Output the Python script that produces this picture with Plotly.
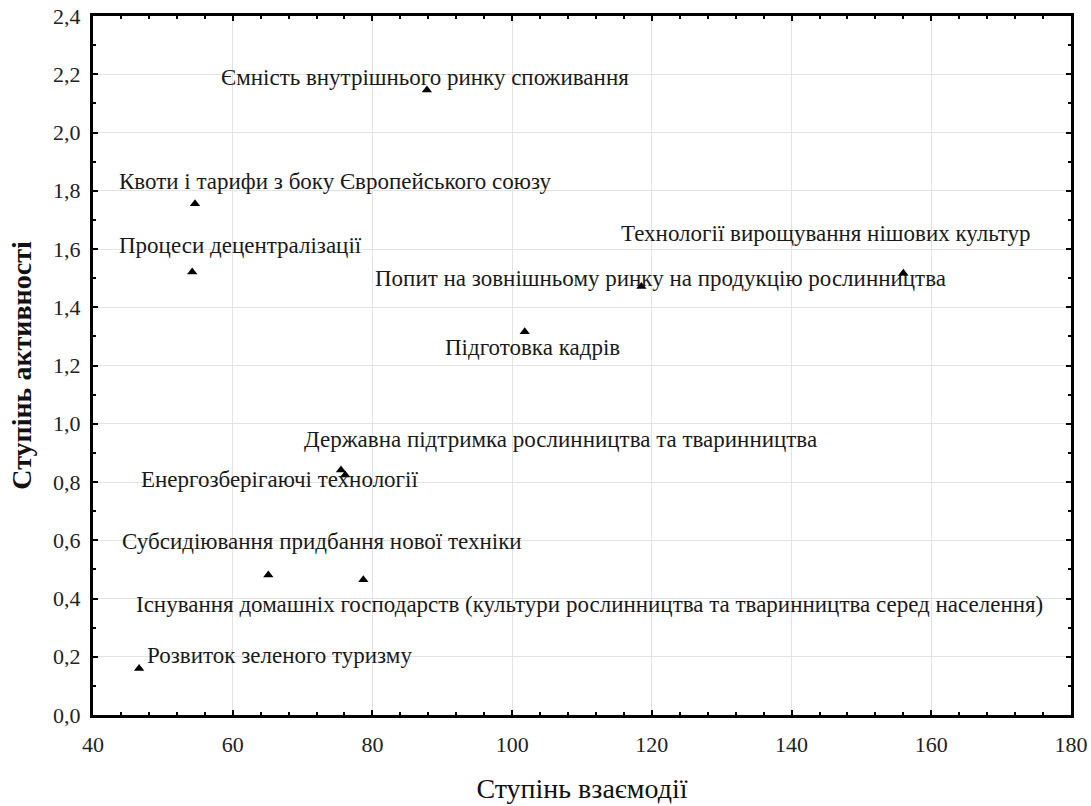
import plotly.graph_objects as go

labels = [
    "Ємність внутрішнього ринку споживання",
    "Квоти і тарифи з боку Європейського союзу",
    "Процеси децентралізації",
    "Технології вирощування нішових культур",
    "Попит на зовнішньому ринку на продукцію рослинництва",
    "Підготовка кадрів",
    "Державна підтримка рослинництва та тваринництва",
    "Енергозберігаючі технології",
    "Субсидіювання придбання нової техніки",
    "Існування домашніх господарств (культури рослинництва та тваринництва серед населення)",
    "Розвиток зеленого туризму",
]
interaction = [87.8, 54.6, 54.2, 156.0, 118.5, 101.8, 75.5, 76.1, 65.1, 78.7, 46.6]
activity = [2.146, 1.755, 1.521, 1.517, 1.471, 1.316, 0.841, 0.824, 0.481, 0.464, 0.160]

# label offsets in pixels (dx, dy) relative to each point
label_dx = [-2, 141, 48, -77, 19, 8, 220, -66, 54, 226, 140]
label_dy = [-12, -22, -27, -40, -8, 16, -31, 4, -33, 25, -13]

FONT = "Liberation Serif, Times New Roman, serif"

fig = go.Figure()
fig.add_trace(go.Scatter(
    x=interaction, y=activity, mode="markers",
    marker=dict(symbol="triangle-up", size=9, color="black"),
    hoverinfo="text", text=labels, showlegend=False,
))

for lab, xv, yv, dx, dy in zip(labels, interaction, activity, label_dx, label_dy):
    fig.add_annotation(
        x=xv, y=yv, xref="x", yref="y", text=lab, showarrow=False,
        xshift=dx, yshift=-dy, xanchor="center", yanchor="middle",
        font=dict(family=FONT, size=23, color="#1a1a1a"),
    )

axis_common = dict(
    showline=True, linecolor="black", linewidth=3, mirror="ticks",
    ticks="inside", ticklen=5, tickwidth=2, tickcolor="black",
    showgrid=True, gridcolor="#e3e3e3", gridwidth=1,
    zeroline=False, automargin=False,
    tickfont=dict(family=FONT, size=22, color="#222"),
)

fig.update_xaxes(
    range=[40, 180], dtick=20, tick0=40, ticklabelstandoff=8,
    minor=dict(dtick=4, ticks="inside", ticklen=3, tickwidth=2, tickcolor="black", showgrid=False),
    title=dict(text="Ступінь взаємодії", font=dict(family=FONT, size=28, color="#111"), standoff=22),
    **axis_common,
)
fig.update_yaxes(
    range=[0, 2.4], dtick=0.2, tick0=0, tickformat=".1f", ticklabelstandoff=5,
    minor=dict(dtick=0.1, ticks="inside", ticklen=3, tickwidth=2, tickcolor="black", showgrid=False),
    title=dict(text="<b>Ступінь активності</b>", font=dict(family=FONT, size=28, color="#111"), standoff=14),
    **axis_common,
)

fig.update_layout(
    width=1091, height=806,
    margin=dict(l=93, r=20, t=16, b=91),
    plot_bgcolor="white", paper_bgcolor="white",
    separators=", ",
    font=dict(family=FONT),
)

fig.write_html(
    "out.html",
    config={"displayModeBar": False},
    post_script="document.body.style.margin='0';document.body.style.overflow='hidden';",
)
